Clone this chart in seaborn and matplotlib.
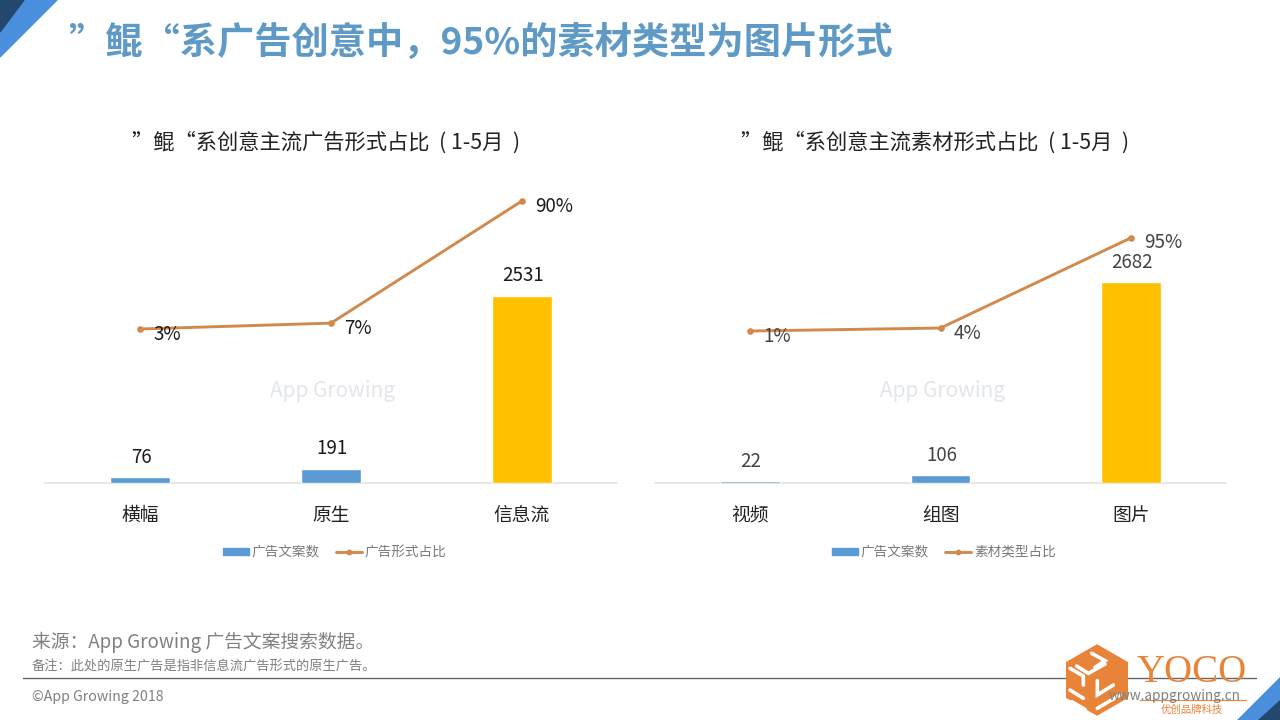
import matplotlib
matplotlib.use('Agg')
import matplotlib.pyplot as plt
import seaborn as sns
from matplotlib.lines import Line2D
from matplotlib.patches import Patch, Polygon, RegularPolygon

sns.set_style('white')
plt.rcParams['font.family'] = ['Noto Sans CJK SC', 'DejaVu Sans']

# data
left_cats = ['横幅', '原生', '信息流']
left_counts = [76, 191, 2531]
left_share = [3, 7, 90]
right_cats = ['视频', '组图', '图片']
right_counts = [22, 106, 2682]
right_share = [1, 4, 95]

BLUE = '#5B9BD5'
GOLD = '#FFC000'
LINE = '#D2894E'
TITLE = '#5F9AC6'
ORANGE = '#E8833A'
W, H = 1280, 720

fig = plt.figure(figsize=(12.8, 7.2), dpi=100, facecolor='white')


def px_axes(x0, x1, y_top, y_bottom):
    return fig.add_axes([x0 / W, 1 - y_bottom / H, (x1 - x0) / W, (y_bottom - y_top) / H])


def draw_panel(ax, cats, counts, share, ylim, share_lim, label_color):
    sns.barplot(x=cats, y=counts, hue=cats, palette=[BLUE, BLUE, GOLD], width=0.315,
                legend=False, saturation=1, ax=ax)
    for bar in ax.patches:
        bar.set_zorder(3)
    ax.set_ylim(*ylim)
    ax.set_xlim(-0.5, 2.5)
    ax.set_ylabel('')
    ax.set_yticks([])
    sns.despine(ax=ax, left=True)
    ax.spines['bottom'].set_color('#E3E3E3')
    ax.spines['bottom'].set_linewidth(1.2)
    ax.tick_params(axis='x', length=0, pad=16, labelsize=13.5, labelcolor='#222222')
    ax.patch.set_alpha(0)

    ax2 = ax.twinx()
    sns.pointplot(x=cats, y=share, color=LINE, markersize=3.2, linewidth=2.1, ax=ax2)
    ax2.set_ylim(*share_lim)
    ax2.set_xlim(-0.5, 2.5)
    ax2.set_ylabel('')
    ax2.set_yticks([])
    sns.despine(ax=ax2, left=True, bottom=True)
    ax2.patch.set_alpha(0)

    for i, v in enumerate(counts):
        ax.annotate(str(v), (i, v), xytext=(1, 20), textcoords='offset pixels',
                    ha='center', va='center', fontsize=13.5, color=label_color)
    for i, v in enumerate(share):
        ax2.annotate(f'{v}%', (i, v), xytext=(13, -5), textcoords='offset pixels',
                     ha='left', va='center', fontsize=13.5, color=label_color)


ax_left = px_axes(45, 617, 180, 483)
draw_panel(ax_left, left_cats, left_counts, left_share, (0, 4100), (-101.8, 104.4), '#1A1A1A')
ax_right = px_axes(655, 1226, 180, 483)
draw_panel(ax_right, right_cats, right_counts, right_share, (0, 4045), (-152.5, 153.5), '#444444')

for x, label, line_label in [(335, '广告文案数', '广告形式占比'), (944, '广告文案数', '素材类型占比')]:
    handles = [Patch(color=BLUE, label=label),
               Line2D([0], [0], color=LINE, lw=2.1, marker='o', ms=3.2, label=line_label)]
    fig.legend(handles=handles, loc='center', bbox_to_anchor=(x / W, 1 - 552 / H), ncol=2,
               frameon=False, fontsize=9.8, labelcolor='#7A7A7A', handlelength=1.9,
               handleheight=0.4, handletextpad=0.2, columnspacing=1.2)

# page furniture in pixel coordinates
page = fig.add_axes([0, 0, 1, 1], zorder=5)
page.set_xlim(0, W)
page.set_ylim(H, 0)
page.axis('off')
page.patch.set_alpha(0)

page.add_patch(Polygon([(0, 0), (57, 0), (0, 57)], color='#4A8FDB'))
page.add_patch(Polygon([(0, 0), (24, 0), (0, 32)], color='#24476E'))
page.add_patch(Polygon([(1280, 677), (1280, 720), (1237, 720)], color='#4A8FDB'))
page.add_patch(Polygon([(1280, 700), (1280, 720), (1258, 720)], color='#24476E'))

page.text(68, 43, '”鲲“系广告创意中，95%的素材类型为图片形式', fontsize=26.8, fontweight='bold',
          color=TITLE, va='center', ha='left')
page.text(132, 143, '”鲲“系创意主流广告形式占比  ( 1-5月  )', fontsize=15.3, color='#222222', va='center')
page.text(741, 143, '”鲲“系创意主流素材形式占比  ( 1-5月  )', fontsize=15.3, color='#222222', va='center')

for x in (270, 880):
    page.text(x, 391, 'App Growing', fontsize=15, style='italic', color='#E2E6EA',
              va='center', ha='left', zorder=0)

page.text(32, 642, '来源：App Growing 广告文案搜索数据。', fontsize=13.5, color='#808080', va='center')
page.text(32, 667, '备注：此处的原生广告是指非信息流广告形式的原生广告。', fontsize=9.5, color='#808080', va='center')
page.text(32, 697, '©App Growing 2018', fontsize=10.2, color='#808080', va='center')
page.plot([23, 1256], [678, 678], color='#666666', lw=1)

# YOCO logo
page.add_patch(RegularPolygon((1097, 680), 6, radius=35, color=ORANGE, zorder=3))
strokes = [[(95, 40), (135, 62), (105, 82)],
           [(50, 78), (85, 100), (135, 72)],
           [(30, 85), (70, 108), (70, 135)],
           [(30, 150), (70, 175)],
           [(35, 185), (75, 208)],
           [(112, 122), (112, 165), (160, 135)],
           [(112, 205), (180, 165)]]
for pts in strokes:
    xs = [1060 + p[0] / 3 for p in pts]
    ys = [640 + p[1] / 3 for p in pts]
    page.plot(xs, ys, color='white', lw=2.6, zorder=4, solid_joinstyle='miter')
page.text(1192, 672, 'YOCO', fontsize=28, family='Liberation Serif', color=ORANGE, ha='center', va='center', zorder=4)
page.plot([1140, 1246], [700, 700], color=ORANGE, lw=0.8, zorder=4)
page.text(1175, 696, 'www.appgrowing.cn', fontsize=9.8, color='#808080', ha='center', va='center', zorder=4)
page.text(1192, 710, '优创品牌科技', fontsize=7.5, color=ORANGE, ha='center', va='center', zorder=5)

fig.savefig('out.png', dpi=100, facecolor='white')
